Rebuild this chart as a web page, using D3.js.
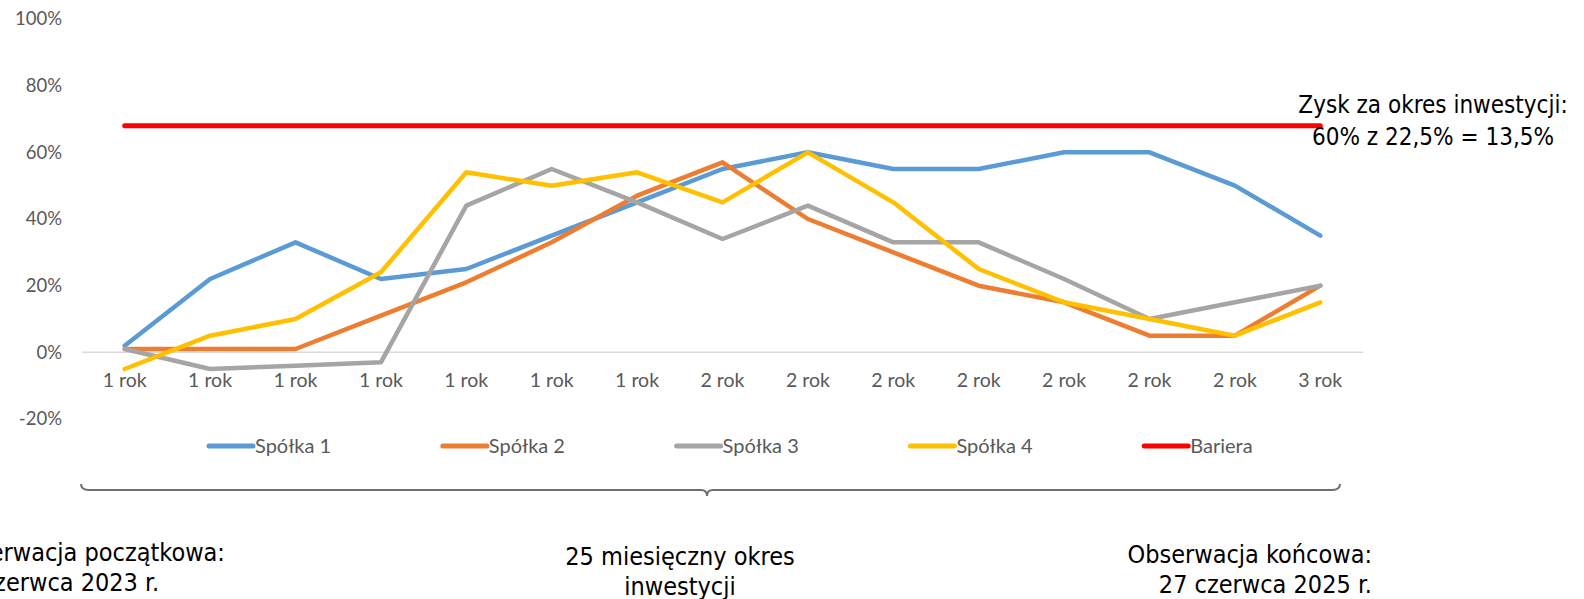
<!DOCTYPE html>
<html>
<head>
<meta charset="utf-8">
<script src="https://cdn.jsdelivr.net/npm/d3@7"></script>
<style>
  body { margin: 0; background: #fff; }
  svg { display: block; }
  .tick text { font-family: Lato, "Noto Sans", sans-serif; fill: #595959; }
  .note { font-family: "Liberation Sans Narrow", "DejaVu Sans Condensed", sans-serif; fill: #000; }
</style>
</head>
<body>
<div id="chart"></div>
<script>
// categories on the x axis
const categories = ["1 rok", "1 rok", "1 rok", "1 rok", "1 rok", "1 rok", "1 rok",
                    "2 rok", "2 rok", "2 rok", "2 rok", "2 rok", "2 rok", "2 rok", "3 rok"];

// values in %
const spolka1 = [2, 22, 33, 22, 25, 35, 45, 55, 60, 55, 55, 60, 60, 50, 35];
const spolka2 = [1, 1, 1, 11, 21, 33, 47, 57, 40, 30, 20, 15, 5, 5, 20];
const spolka3 = [1, -5, -4, -3, 44, 55, 45, 34, 44, 33, 33, 22, 10, 15, 20];
const spolka4 = [-5, 5, 10, 24, 54, 50, 54, 45, 60, 45, 25, 15, 10, 5, 15];
const bariera = [68, 68, 68, 68, 68, 68, 68, 68, 68, 68, 68, 68, 68, 68, 68];

const seriesNames = ["Spółka 1", "Spółka 2", "Spółka 3", "Spółka 4", "Bariera"];
const seriesColors = ["#5B9BD5", "#ED7D31", "#A5A5A5", "#FFC000", "#FF0000"];
const yTicks = [-20, 0, 20, 40, 60, 80, 100];

const width = 1584, height = 599;

const svg = d3.select("#chart").append("svg")
    .attr("width", width)
    .attr("height", height);

const x = d3.scaleBand()
    .domain(categories.map((d, i) => i))
    .range([82, 1363])
    .padding(0);

const y = d3.scaleLinear()
    .domain([-20, 100])
    .range([419, 19]);

const cx = i => x(i) + x.bandwidth() / 2;

// y axis labels
svg.append("g")
    .attr("transform", "translate(62,0)")
    .call(d3.axisLeft(y).tickValues(yTicks).tickFormat(d => d + "%").tickSize(0).tickPadding(0))
    .call(g => g.select(".domain").remove())
    .selectAll("text")
      .attr("font-size", 18.5);

// zero line
svg.append("line")
    .attr("x1", 82).attr("x2", 1363)
    .attr("y1", y(0)).attr("y2", y(0))
    .attr("stroke", "#d9d9d9")
    .attr("stroke-width", 1.5);

// category labels
svg.append("g")
    .attr("transform", `translate(0,${y(0)})`)
    .call(d3.axisBottom(x).tickFormat(i => categories[i]).tickSize(0).tickPadding(21))
    .call(g => g.select(".domain").remove())
    .selectAll("text")
      .attr("font-size", 19.5);

const line = d3.line()
    .x((d, i) => cx(i))
    .y(d => y(d));

const allSeries = [spolka1, spolka2, spolka3, spolka4, bariera];

svg.append("g")
  .selectAll("path")
  .data(allSeries)
  .join("path")
    .attr("d", d => line(d))
    .attr("fill", "none")
    .attr("stroke", (d, i) => seriesColors[i])
    .attr("stroke-width", (d, i) => i === 4 ? 5 : 4.5)
    .attr("stroke-linejoin", "round")
    .attr("stroke-linecap", "round");

// legend
const legend = svg.append("g")
  .selectAll("g")
  .data(seriesNames)
  .join("g")
    .attr("transform", (d, i) => `translate(${209 + i * 233.8},446)`);

legend.append("line")
    .attr("x1", 0).attr("x2", 44)
    .attr("stroke", (d, i) => seriesColors[i])
    .attr("stroke-width", 5)
    .attr("stroke-linecap", "round");

legend.append("text")
    .attr("x", 46)
    .attr("dy", "0.35em")
    .attr("font-family", "Lato, 'Noto Sans', sans-serif")
    .attr("font-size", 20)
    .attr("fill", "#595959")
    .text(d => d);

// annotation next to the barrier
const note = svg.append("text")
    .attr("class", "note")
    .attr("text-anchor", "middle")
    .attr("font-size", 24);
note.append("tspan").attr("x", 1433).attr("y", 113).text("Zysk za okres inwestycji:");
note.append("tspan").attr("x", 1433).attr("y", 145).text("60% z 22,5% = 13,5%");

// brace under the chart
const bl = 81, br = 1340, bm = 707, by = 490;
svg.append("path")
    .attr("d", `M${bl},${by - 6} Q${bl},${by} ${bl + 8},${by}
                L${bm - 6},${by} Q${bm},${by} ${bm},${by + 6}
                Q${bm},${by} ${bm + 6},${by}
                L${br - 8},${by} Q${br},${by} ${br},${by - 6}`)
    .attr("fill", "none")
    .attr("stroke", "#6f6f6f")
    .attr("stroke-width", 2);

// bottom texts
const left = svg.append("text").attr("class", "note").attr("font-size", 25);
left.append("tspan").attr("x", -54).attr("y", 561).text("Obserwacja początkowa:");
left.append("tspan").attr("x", -54).attr("y", 591).text("27 czerwca 2023 r.");

const mid = svg.append("text").attr("class", "note").attr("font-size", 25).attr("text-anchor", "middle");
mid.append("tspan").attr("x", 680).attr("y", 565).text("25 miesięczny okres");
mid.append("tspan").attr("x", 680).attr("y", 595).text("inwestycji");

const right = svg.append("text").attr("class", "note").attr("font-size", 25).attr("text-anchor", "end");
right.append("tspan").attr("x", 1372).attr("y", 563).text("Obserwacja końcowa:");
right.append("tspan").attr("x", 1372).attr("y", 593).text("27 czerwca 2025 r.");
</script>
</body>
</html>
